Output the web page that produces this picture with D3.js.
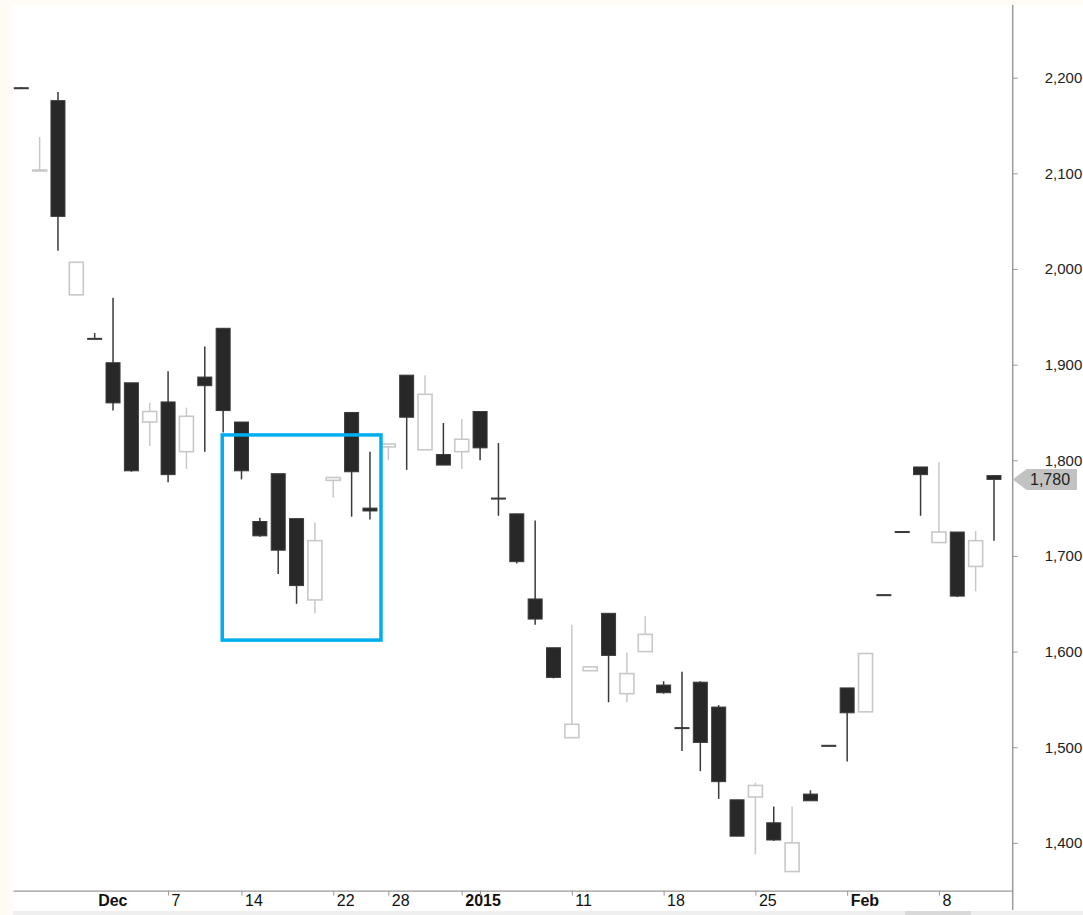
<!DOCTYPE html>
<html>
<head>
<meta charset="utf-8">
<script src="https://cdn.jsdelivr.net/npm/d3@7"></script>
<style>
  html, body { margin: 0; padding: 0; background: #fdfbf4; }
  svg { display: block; }
  text { font-family: Arial, "Liberation Sans", sans-serif; }
</style>
</head>
<body>
<svg id="chart" width="1083" height="915"></svg>
<script>
// Daily OHLC, late Nov 2014 – mid Feb 2015 (one entry per session)
const opens  = [2189.5,2102.5,2176,1973,1927.5,1902,1881,1840,1861,1809,
                1887,1938,1840,1736,1786,1739,1654,1779,1850,1750,
                1814,1889,1811,1806,1809,1851,1760.5,1744,1655,1604,
                1510,1580,1640,1556,1600,1565,1520.5,1568,1542,1445,
                1448,1421,1370,1451,1502,1562,1537,1659.5,1725.5,1793,
                1714,1725,1689,1784];
const highs  = [2190,2138,2185,2007,1933,1970,1881,1860,1893,1855,
                1919,1938,1840,1740,1786,1739,1735,1782,1850,1809,
                1817,1889,1889,1839,1843,1851,1818,1744,1737,1604,
                1628,1584,1640,1599,1637,1569,1579,1569,1544,1445,
                1463,1438,1438,1455,1502,1562,1598,1659.5,1725.5,1793,
                1798,1725,1726,1784];
const lows   = [2189,2102.5,2019,1973,1927,1852,1788,1815,1777,1791,
                1809,1829,1780,1720,1681,1650,1640,1761,1741,1738,
                1800,1790,1811,1795,1791,1800,1742,1692,1628,1572,
                1510,1580,1547,1547,1600,1556,1496,1475,1446,1407,
                1388,1402,1370,1444,1501.5,1485,1537,1659,1725,1742,
                1714,1657,1663,1716];
const closes = [2189,2103.5,2055,2007,1927,1860,1789,1851,1785,1846,
                1878,1852,1789,1721,1706,1669,1716,1782,1788,1747,
                1817,1845,1869,1795,1822,1813,1760,1694,1634,1573,
                1524,1584,1596,1577,1618,1557,1520,1505,1464,1407,
                1460,1403,1400,1444,1501.5,1536,1598,1659,1725,1785,
                1725,1658,1716,1780];

// Date axis: session index, label, bold month/year marks
const tickIndex  = [4, 8, 12, 17, 20, 24, 25, 30, 35, 40, 45, 50];
const tickLabels = ["Dec", "7", "14", "22", "28", "2015", "", "11", "18", "25", "Feb", "8"];
const tickBold   = [true, false, false, false, false, true, false, false, false, false, true, false];
const tickHidden = [true, false, false, false, false, false, false, false, false, false, false, false];

// Price axis
const priceTicks = [1400, 1500, 1600, 1700, 1800, 1900, 2000, 2100, 2200];
const lastPrice = 1780;

// Highlighted range: [first index, last index, upper price, lower price]
const highlightBox = [10.95, 19.6, 1826.5, 1612];

const svg = d3.select("#chart");
const W = 1083, H = 915;
const plotLeft = 13, plotTop = 5, plotRight = 1012.7, plotBottom = 890.7;

const x = d3.scaleLinear().domain([-0.45, 54.02]).range([plotLeft, plotRight]);
const y = d3.scaleLinear().domain([1350, 2276]).range([plotBottom, plotTop]);

// panel background
svg.append("rect").attr("x", 0).attr("y", 0).attr("width", W).attr("height", H).attr("fill", "#fdfbf4");
svg.append("rect").attr("x", plotLeft).attr("y", plotTop).attr("width", W - plotLeft).attr("height", 911 - plotTop).attr("fill", "#ffffff");
// scroll strip
svg.append("rect").attr("x", plotLeft).attr("y", 911).attr("width", W - plotLeft).attr("height", 4).attr("fill", "#efefef");
svg.append("rect").attr("x", 905).attr("y", 911).attr("width", 66).attr("height", 4).attr("fill", "#d9d9d9");

const candles = opens.map((o, i) => ({ i, o, h: highs[i], l: lows[i], c: closes[i], up: closes[i] >= opens[i] }));

const bodyW = 14;
const DARK = "#282828", DARK_LINE = "#3a3a3a", LIGHT = "#c8c8c8";

const g = svg.append("g");
// wicks
g.selectAll("line.wick").data(candles).join("line")
  .attr("class", "wick")
  .attr("x1", d => x(d.i)).attr("x2", d => x(d.i))
  .attr("y1", d => y(d.h)).attr("y2", d => y(d.l))
  .attr("stroke", d => d.up ? LIGHT : DARK_LINE)
  .attr("stroke-width", 1.5);
// bodies
g.selectAll("rect.body").data(candles).join("rect")
  .attr("class", "body")
  .attr("x", d => x(d.i) - bodyW / 2)
  .attr("width", bodyW)
  .attr("y", d => y(Math.max(d.o, d.c)))
  .attr("height", d => Math.max(Math.abs(y(d.o) - y(d.c)), 1))
  .attr("fill", d => d.up ? "#ffffff" : DARK)
  .attr("stroke", d => d.up ? LIGHT : DARK_LINE)
  .attr("stroke-width", d => d.up ? 1.6 : 1);

// highlight rectangle
svg.append("rect")
  .attr("x", x(highlightBox[0]))
  .attr("y", y(highlightBox[2]))
  .attr("width", x(highlightBox[1]) - x(highlightBox[0]))
  .attr("height", y(highlightBox[3]) - y(highlightBox[2]))
  .attr("fill", "none")
  .attr("stroke", "#00aeef")
  .attr("stroke-width", 3.5);

// bottom date axis
const xAxis = d3.axisBottom(x)
  .tickValues(tickIndex)
  .tickFormat((d, k) => tickLabels[k])
  .tickSize(5)
  .tickSizeOuter(0);
const gx = svg.append("g").attr("transform", `translate(0,${plotBottom})`).call(xAxis);
gx.select(".domain").attr("stroke", "#9a9a9a").attr("stroke-width", 1.3);
gx.selectAll(".tick line").attr("stroke", "#9a9a9a").attr("stroke-width", 1)
  .attr("display", (d, k) => tickHidden[k] ? "none" : null);
gx.selectAll(".tick text")
  .attr("text-anchor", "start")
  .attr("x", 3).attr("y", 15).attr("dy", 0)
  .attr("fill", "#111")
  .style("font-size", "16px")
  .style("font-weight", (d, k) => tickBold[k] ? "bold" : "normal");

// right price axis
const yAxis = d3.axisRight(y)
  .tickValues(priceTicks)
  .tickFormat(d3.format(","))
  .tickSize(5)
  .tickPadding(27)
  .tickSizeOuter(0);
const gy = svg.append("g").attr("transform", `translate(${plotRight},0)`).call(yAxis);
gy.select(".domain").remove();
gy.selectAll(".tick line").attr("stroke", "#9a9a9a");
gy.selectAll(".tick text").attr("fill", "#222").style("font-size", "15px");
svg.append("line")
  .attr("x1", plotRight).attr("x2", plotRight)
  .attr("y1", plotTop).attr("y2", 910)
  .attr("stroke", "#9a9a9a").attr("stroke-width", 1.5);

// last price tag
const ly = y(lastPrice);
svg.append("path")
  .attr("d", `M${plotRight},${ly} L${plotRight + 14},${ly - 10.5} L1077,${ly - 10.5} L1077,${ly + 10.5} L${plotRight + 14},${ly + 10.5} Z`)
  .attr("fill", "#c2c2c2");
svg.append("text")
  .attr("x", 1030).attr("y", ly).attr("dy", "0.36em")
  .attr("fill", "#222").style("font-size", "16px")
  .text(d3.format(",")(lastPrice));
</script>
</body>
</html>
